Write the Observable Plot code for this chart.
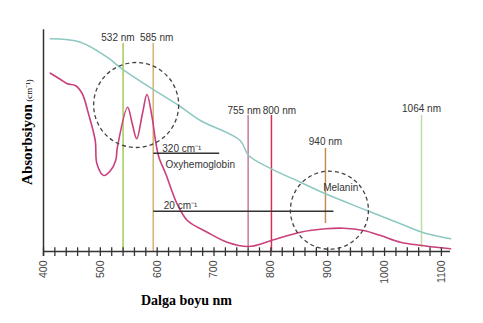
<!DOCTYPE html>
<html>
<head>
<meta charset="utf-8">
<script src="https://cdn.jsdelivr.net/npm/d3@7"></script>
<script src="https://cdn.jsdelivr.net/npm/@observablehq/plot@0.6"></script>
<style>
  html, body { margin: 0; padding: 0; background: #fff; }
  #chart svg { display: block; }
</style>
</head>
<body>
<div id="chart"></div>
<script>
// Tissue (scatter) absorption curve – teal
const tissueNm  = [412, 465, 512, 538, 594, 638, 676, 746, 761, 801, 852, 896, 969, 1028, 1066, 1116];
const tissueAbs = [212.7, 209.3, 194.3, 182.7, 161.7, 146, 131, 111, 96, 82.7, 69.3, 57.7, 41, 27.7, 19.3, 12.7];

// Oxyhemoglobin + melanin curve – magenta
const hbNm  = [412, 430, 442, 456, 468, 479, 491, 494, 506, 518, 527, 530, 548, 556, 564, 574, 582, 591, 597, 603, 615, 635, 653, 688, 723, 761, 801, 852, 896, 928, 963, 993, 1028, 1066, 1116];
const hbAbs = [178.3, 172, 167.7, 166, 158, 138, 111, 87.7, 76, 81, 91, 104.3, 144.3, 128, 112.7, 137.7, 157, 134.3, 111, 94.3, 77.7, 47.7, 31, 19.3, 9.3, 5, 11, 19.3, 22.7, 23.3, 21, 16, 9.3, 6, 2.7];

// Laser wavelength lines
const laserLabels = ["532 nm", "585 nm", "755 nm", "800 nm", "940 nm", "1064 nm"];
const laserNm     = [540, 593, 760, 801, 896, 1065];
const laserTop    = [208, 208, 136, 136, 103, 136];
const laserBottom = [0, 0, 5, 0, 28, 4];
const laserLabelNm  = [531, 599, 753, 815, 896, 1065];
const laserLabelAbs = [211, 211, 138, 138, 107, 139.5];
const laserColors = ["#a6c95c", "#d4b176", "#c77a9c", "#d82f4e", "#c98a4f", "#bddcab"];

// Horizontal reference bars
const barStart = [594, 594];
const barEnd   = [710, 911];
const barAbs   = [98.3, 40.3];

// Annotation texts
const noteText = ["320 cm⁻¹", "Oxyhemoglobin", "20 cm⁻¹", "Melanin"];
const noteNm   = [609, 614.6, 611.6, 892];
const noteAbs  = [99.5, 83.7, 42.7, 60.3];

// Dashed circles (centres)
const circleNm  = [563, 903];
const circleAbs = [146.5, 41.3];

// Axis ticks
const minorTicks = d3.range(400, 1101, 20);
const tickLabels = [400, 500, 600, 700, 800, 900, 1000, 1100];

const tissue = tissueNm.map((x, i) => ({x, y: tissueAbs[i]}));
const hb = hbNm.map((x, i) => ({x, y: hbAbs[i]}));
const lasers = laserLabels.map((label, i) => ({
  label, x: laserNm[i], top: laserTop[i], bottom: laserBottom[i],
  lx: laserLabelNm[i], ly: laserLabelAbs[i], color: laserColors[i]
}));
const bars = barStart.map((x1, i) => ({x1, x2: barEnd[i], y: barAbs[i]}));
const notes = noteText.map((t, i) => ({t, x: noteNm[i], y: noteAbs[i]}));

const sans = "Liberation Sans, Arial, Helvetica, sans-serif";
const serif = "Liberation Serif, Times New Roman, serif";

const chart = Plot.plot({
  width: 483,
  height: 323,
  marginLeft: 43,
  marginRight: 33,
  marginTop: 0,
  marginBottom: 72,
  style: {background: "#fff", fontFamily: sans},
  x: {domain: [400, 1116], axis: null},
  y: {domain: [0, 251], axis: null},
  marks: [
    // laser lines
    Plot.ruleX(lasers, {x: "x", y1: "bottom", y2: "top", stroke: "color", strokeWidth: 1.5}),
    Plot.text(lasers, {x: "lx", y: "ly", text: "label", lineAnchor: "bottom", fontSize: 10, fill: "#333", fontFamily: sans}),
    // curves
    Plot.line(tissue, {x: "x", y: "y", stroke: "#8dc8c2", strokeWidth: 1.5, curve: "catmull-rom"}),
    Plot.line(hb, {x: "x", y: "y", stroke: "#c9407c", strokeWidth: 1.6, curve: "catmull-rom"}),
    // bars
    Plot.ruleY(bars, {y: "y", x1: "x1", x2: "x2", stroke: "#333", strokeWidth: 1.5}),
    Plot.text(notes, {x: "x", y: "y", text: "t", textAnchor: "start", lineAnchor: "bottom", fontSize: 10, fill: "#333", fontFamily: sans}),
    // dashed circles
    Plot.dot([0], {x: () => circleNm[0], y: () => circleAbs[0], r: 42.5, stroke: "#444", strokeWidth: 1.3, strokeDasharray: "4,3", fill: "none"}),
    Plot.dot([1], {x: () => circleNm[1], y: () => circleAbs[1], r: 39, stroke: "#444", strokeWidth: 1.3, strokeDasharray: "4,3", fill: "none"}),
    // axes
    Plot.ruleY([0], {x1: 400, x2: 1116, stroke: "#333", strokeWidth: 1.5}),
    Plot.ruleX([400], {y1: -5, y2: 221.7, stroke: "#333", strokeWidth: 1.5}),
    Plot.ruleX(minorTicks, {y1: -5, y2: 3.7, stroke: "#333", strokeWidth: 1.3}),
    Plot.text(tickLabels, {x: d => d, y: -9, text: d => String(d), rotate: -90, textAnchor: "end", lineAnchor: "middle", fontSize: 10.5, fill: "#444", fontFamily: sans}),
    // axis titles
    Plot.text(["Dalga boyu nm"], {frameAnchor: "bottom", dx: -60.5, dy: 53, lineAnchor: "bottom", fontSize: 14, fontWeight: "bold", fill: "#000", fontFamily: serif}),
    Plot.text(["Absorbsiyon"], {frameAnchor: "left", rotate: -90, dx: -12, dy: 18.5, lineAnchor: "bottom", textAnchor: "middle", fontSize: 15, fontWeight: "bold", fill: "#000", fontFamily: serif}),
    Plot.text(["(cm⁻¹)"], {frameAnchor: "left", rotate: -90, dx: -12, dy: -35.5, lineAnchor: "bottom", textAnchor: "middle", fontSize: 9, fill: "#000", fontFamily: serif})
  ]
});
document.getElementById("chart").appendChild(chart);
</script>
</body>
</html>
